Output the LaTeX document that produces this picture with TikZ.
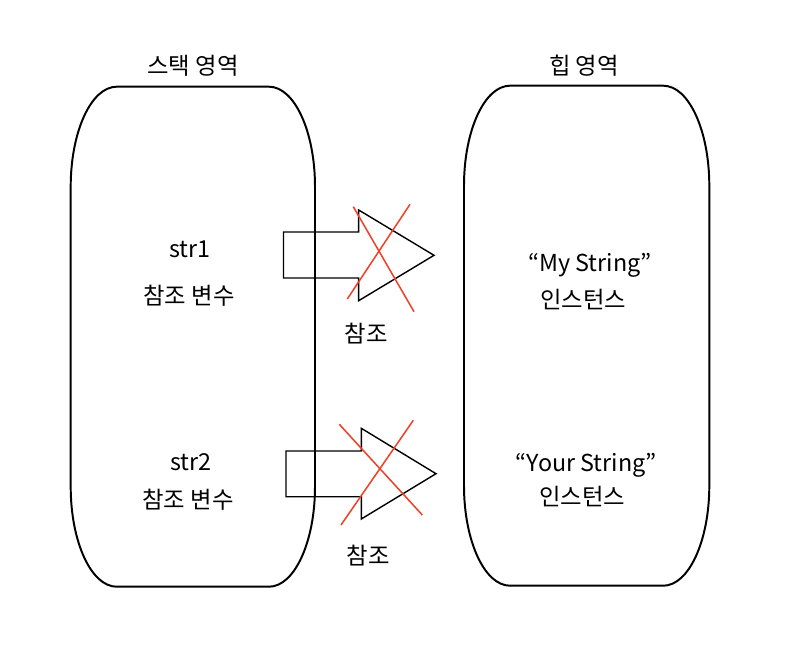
\documentclass[tikz,border=0pt]{standalone}
\usepackage{fontspec}
\setmainfont{Noto Sans CJK KR}
\definecolor{crossred}{RGB}{236,68,42}
\tikzset{
  lbl/.style={font=\fontsize{16.6}{19}\selectfont, inner sep=0pt},
  region/.style={black, line width=1.4pt},
  blockarrow/.style={black, line width=1pt, line join=miter},
  cross/.style={crossred, line width=1.1pt}
}
\begin{document}
\begin{tikzpicture}[x=0.025cm, y=-0.025cm]
\useasboundingbox (0,0) rectangle (812,652);

% stack region
\draw[region] (70.7,186.7) arc[start angle=180, end angle=270, x radius=46, y radius=100]
  -- (269,86.7) arc[start angle=270, end angle=360, x radius=46, y radius=100]
  -- (315,486.7) arc[start angle=0, end angle=90, x radius=46, y radius=100]
  -- (116.7,586.7) arc[start angle=90, end angle=180, x radius=46, y radius=100] -- cycle;
\node[lbl] (stacktitle) at (193,66) {스택 영역};

% heap region
\draw[region] (464,185.7) arc[start angle=180, end angle=270, x radius=46, y radius=100]
  -- (663.3,85.7) arc[start angle=270, end angle=360, x radius=46, y radius=100]
  -- (709.3,485.7) arc[start angle=0, end angle=90, x radius=46, y radius=100]
  -- (510,585.7) arc[start angle=90, end angle=180, x radius=46, y radius=100] -- cycle;
\node[lbl] (heaptitle) at (584,66) {힙 영역};

% references
\node[lbl] (strone) at (190,249) {str1};
\node[lbl] (refvarone) at (189,296) {참조 변수};
\node[lbl] (strtwo) at (191,462) {str2};
\node[lbl] (refvartwo) at (188,500) {참조 변수};

% instances
\node[lbl] (mystring) at (590,265) {“My String”};
\node[lbl] (instone) at (583,300) {인스턴스};
\node[lbl] (yourstring) at (586,465) {“Your String”};
\node[lbl] (insttwo) at (582,497) {인스턴스};

% arrow 1
\draw[blockarrow] (283.5,232) -- (358.7,232) -- (358.7,210) -- (434,255.3)
  -- (358.7,300.7) -- (358.7,278) -- (283.5,278) -- cycle;
\draw[cross] (353.3,206.7) -- (414,311.7);
\draw[cross] (410,204.3) -- (347.3,299);
\node[lbl] (refone) at (366,334) {참조};

% arrow 2
\draw[blockarrow] (286,451) -- (361.3,451) -- (361.3,428.3) -- (436,473.7)
  -- (361.3,519) -- (361.3,496.7) -- (286,496.7) -- cycle;
\draw[cross] (339.3,424.3) -- (422.3,515);
\draw[cross] (413.3,420.3) -- (341,525);
\node[lbl] (reftwo) at (368,556) {참조};

\end{tikzpicture}
\end{document}
